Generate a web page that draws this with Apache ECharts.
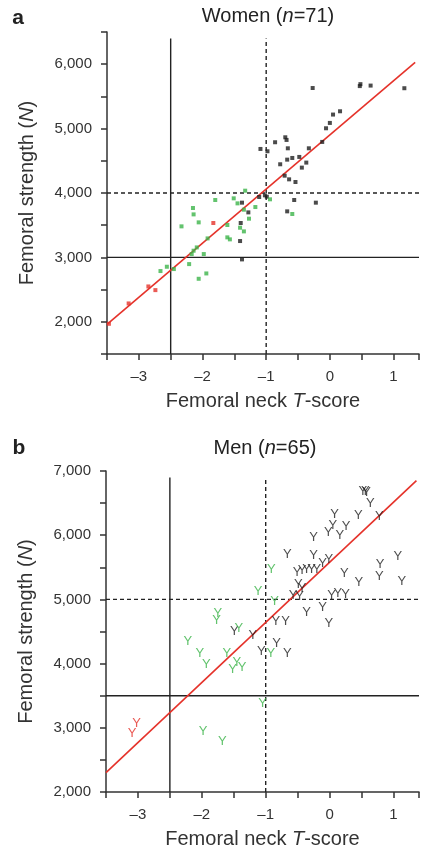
<!DOCTYPE html>
<html>
<head>
<meta charset="utf-8">
<script src="https://cdn.jsdelivr.net/npm/echarts@6/dist/echarts.min.js"></script>
<style>
  html, body { margin: 0; padding: 0; background: #fff; }
  #chart { width: 422px; height: 850px; }
</style>
</head>
<body>
<div id="chart"></div>
<script>
// panel a, women: [T-score, strength N]
const womenBlack = [
  [-0.27, 5630], [0.47, 5660], [0.48, 5690], [0.64, 5668], [1.17, 5627],
  [0.16, 5269], [0.05, 5218], [0.0, 5088], [-0.06, 5005], [-0.12, 4793],
  [-0.33, 4694], [-0.86, 4788], [-0.70, 4865], [-0.68, 4824], [-0.66, 4694],
  [-1.09, 4684], [-0.98, 4648], [-0.78, 4446], [-0.67, 4518], [-0.59, 4544],
  [-0.48, 4560], [-0.37, 4472], [-0.44, 4394], [-0.71, 4269], [-0.64, 4212],
  [-0.54, 4171], [-0.22, 3850], [-0.56, 3891], [-1.02, 3964], [-0.99, 3943],
  [-1.11, 3938], [-1.38, 3850], [-0.67, 3715], [-1.28, 3699], [-1.40, 3534],
  [-1.41, 3254], [-1.38, 2969]
];
const womenGreen = [
  [-1.33, 4036], [-1.51, 3917], [-1.45, 3839], [-1.17, 3782], [-0.94, 3902],
  [-1.80, 3891], [-2.15, 3767], [-2.14, 3668], [-1.35, 3741], [-1.27, 3601],
  [-1.61, 3503], [-1.41, 3461], [-1.35, 3404], [-2.06, 3544], [-2.33, 3482],
  [-1.61, 3311], [-1.57, 3280], [-1.92, 3295], [-2.09, 3155], [-2.14, 3104],
  [-2.17, 3052], [-1.98, 3052], [-2.21, 2896], [-2.06, 2668], [-1.94, 2751],
  [-2.45, 2819], [-2.56, 2855], [-2.66, 2788], [-0.59, 3674]
];
const womenRed = [
  [-1.83, 3534], [-2.85, 2549], [-2.74, 2492], [-3.16, 2285], [-3.47, 1969]
];
const womenFit = [[-3.5, 1960], [1.34, 6030]];

// panel b, men
const menBlack = [
  [0.52, 6680], [0.56, 6680], [0.58, 6660], [0.64, 6490], [0.08, 6325],
  [0.45, 6315], [0.78, 6285], [0.05, 6160], [0.26, 6130], [-0.02, 6043],
  [0.16, 5990], [-0.25, 5962], [-0.66, 5700], [-0.25, 5683], [-0.01, 5630],
  [-0.11, 5555], [-0.51, 5414], [-0.43, 5455], [-0.36, 5460], [-0.28, 5460],
  [-0.20, 5465], [1.07, 5672], [0.79, 5542], [0.23, 5401], [0.78, 5359],
  [0.46, 5271], [1.13, 5286], [-0.49, 5234], [-0.43, 5167], [-0.57, 5062],
  [-0.47, 5052], [0.03, 5062], [0.13, 5089], [0.25, 5078], [-0.36, 4800],
  [-0.11, 4880], [-0.84, 4656], [-0.69, 4661], [-0.01, 4630], [-1.49, 4509],
  [-1.20, 4442], [-0.83, 4322], [-1.07, 4182], [-0.66, 4166]
];
const menGreen = [
  [-0.91, 5464], [-1.12, 5125], [-0.86, 4969], [-1.75, 4776], [-1.77, 4672],
  [-1.42, 4545], [-2.22, 4338], [-2.03, 4156], [-1.93, 3990], [-1.61, 4166],
  [-1.45, 4026], [-1.52, 3912], [-1.37, 3938], [-0.92, 4166], [-1.05, 3377],
  [-1.98, 2945], [-1.68, 2795]
];
const menRed = [[-3.02, 3065], [-3.09, 2919]];
const menFit = [[-3.5, 2303], [1.36, 6850]];

// cut-off lines
const womenSolidV = [[-2.5, 1500], [-2.5, 6400]];
const womenDashV = [[-1, 1500], [-1, 6400]];
const womenSolidH = [[-3.5, 3000], [1.4, 3000]];
const womenDashH = [[-3.5, 4000], [1.4, 4000]];
const menSolidV = [[-2.5, 2000], [-2.5, 6900]];
const menDashV = [[-1, 2000], [-1, 6900]];
const menSolidH = [[-3.5, 3500], [1.4, 3500]];
const menDashH = [[-3.5, 5000], [1.4, 5000]];

const FONT = '"Liberation Sans", Arial, Helvetica, sans-serif';
const AXIS_COLOR = '#333';
const BLACK = '#1e1e1e';
const GREEN = '#3cb44a';
const RED = '#e5322a';

let chart = echarts.init(document.getElementById('chart'));

function xAxisOpt(idx) {
  return {
    gridIndex: idx,
    type: 'value',
    min: -3.5,
    max: 1.4,
    interval: 0.5,
    name: 'Femoral neck {i|T}-score',
    nameLocation: 'middle',
    nameGap: 37,
    nameTextStyle: {
      fontFamily: FONT, fontSize: 20, color: '#333',
      rich: { i: { fontFamily: FONT, fontSize: 20, fontStyle: 'italic', color: '#333' } }
    },
    splitLine: { show: false },
    axisLine: { onZero: false, lineStyle: { color: AXIS_COLOR, width: 1.5 } },
    axisTick: { length: 6, lineStyle: { color: AXIS_COLOR, width: 1.5 } },
    axisLabel: {
      margin: 15,
      fontFamily: FONT, fontSize: 15, color: '#333',
      formatter: function (v) {
        if (!Number.isInteger(v)) return '';
        return v < 0 ? '\u2013' + Math.abs(v) : String(v);
      }
    }
  };
}

function yAxisOpt(idx, min, max) {
  return {
    gridIndex: idx,
    type: 'value',
    min: min,
    max: max,
    interval: 500,
    name: 'Femoral strength ({i|N})',
    nameLocation: 'middle',
    nameGap: 70,
    nameTextStyle: {
      fontFamily: FONT, fontSize: 20, color: '#333',
      rich: { i: { fontFamily: FONT, fontSize: 20, fontStyle: 'italic', color: '#333' } }
    },
    splitLine: { show: false },
    axisLine: { onZero: false, lineStyle: { color: AXIS_COLOR, width: 1.5 } },
    axisTick: { length: 6, lineStyle: { color: AXIS_COLOR, width: 1.5 } },
    axisLabel: {
      margin: 15,
      fontFamily: FONT, fontSize: 15, color: '#333',
      formatter: function (v) {
        return v % 1000 === 0 ? v.toLocaleString('en-US') : '';
      }
    }
  };
}

function refLine(idx, data, dashed) {
  return {
    type: 'line',
    xAxisIndex: idx,
    yAxisIndex: idx,
    data: data,
    symbol: 'none',
    silent: true,
    z: 1,
    lineStyle: { color: '#222', width: 1.4, type: dashed ? [4, 3] : 'solid' }
  };
}

function fitLine(idx, data) {
  return {
    type: 'line',
    xAxisIndex: idx,
    yAxisIndex: idx,
    data: data,
    symbol: 'none',
    silent: true,
    z: 3,
    lineStyle: { color: RED, width: 1.6 }
  };
}

function squares(data, color) {
  return {
    type: 'scatter',
    xAxisIndex: 0,
    yAxisIndex: 0,
    data: data,
    symbol: 'rect',
    symbolSize: 4,
    z: 4,
    itemStyle: { color: color }
  };
}

// men are drawn as "Y" glyphs
function glyphs(data, color) {
  return {
    type: 'scatter',
    xAxisIndex: 1,
    yAxisIndex: 1,
    data: data,
    symbolSize: 1,
    z: 4,
    itemStyle: { color: 'rgba(0,0,0,0)' },
    label: {
      show: true,
      position: 'inside',
      formatter: 'Y',
      fontFamily: FONT,
      fontSize: 13,
      color: color
    }
  };
}

function textEl(x, y, text, size, bold) {
  return {
    type: 'text',
    x: x,
    y: y,
    style: {
      text: text,
      fontFamily: FONT,
      fontSize: size,
      fontWeight: bold ? 'bold' : 'normal',
      fill: '#222',
      align: 'center',
      verticalAlign: 'middle',
      textAlign: 'center',
      textVerticalAlign: 'middle',
      rich: { i: { fontFamily: FONT, fontSize: size, fontStyle: 'italic', fill: '#222' } }
    }
  };
}

let option = {
  backgroundColor: '#fff',
  animation: false,
  grid: [
    { left: 107, top: 32, width: 313.6, height: 322 },
    { left: 106, top: 471, width: 313.6, height: 321 }
  ],
  xAxis: [xAxisOpt(0), xAxisOpt(1)],
  yAxis: [yAxisOpt(0, 1500, 6500), yAxisOpt(1, 2000, 7000)],
  graphic: [
    textEl(18, 18, 'a', 21, true),
    textEl(268, 16, 'Women ({i|n}=71)', 20, false),
    textEl(19, 448, 'b', 21, true),
    textEl(265, 448, 'Men ({i|n}=65)', 20, false)
  ],
  series: [
    refLine(0, womenSolidV, false),
    refLine(0, womenDashV, true),
    refLine(0, womenSolidH, false),
    refLine(0, womenDashH, true),
    fitLine(0, womenFit),
    squares(womenBlack, BLACK),
    squares(womenGreen, GREEN),
    squares(womenRed, RED),
    refLine(1, menSolidV, false),
    refLine(1, menDashV, true),
    refLine(1, menSolidH, false),
    refLine(1, menDashH, true),
    fitLine(1, menFit),
    glyphs(menBlack, BLACK),
    glyphs(menGreen, GREEN),
    glyphs(menRed, RED)
  ]
};

chart.setOption(option);
</script>
</body>
</html>
